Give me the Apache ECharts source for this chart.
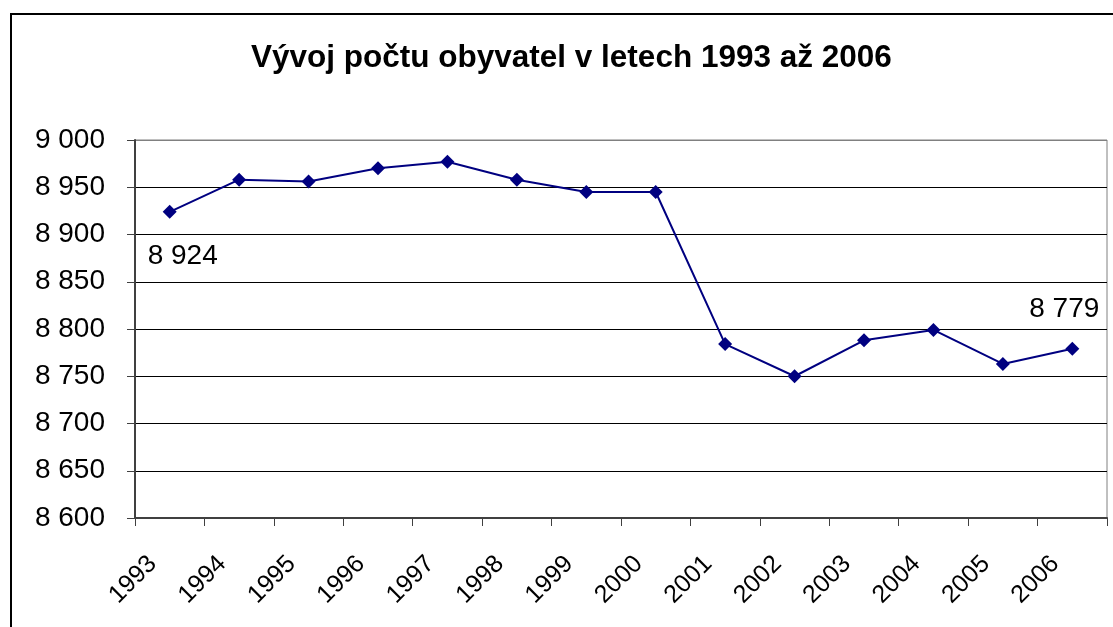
<!DOCTYPE html>
<html><head><meta charset="utf-8">
<script src="https://cdn.jsdelivr.net/npm/echarts@6/dist/echarts.min.js"></script>
<style>html,body{margin:0;padding:0;background:#fff}#c{width:1113px;height:627px}</style>
</head><body><div id="c"></div>
<script>
const years = ['1993','1994','1995','1996','1997','1998','1999','2000','2001','2002','2003','2004','2005','2006'];
const population = [8924, 8958, 8956, 8970, 8977, 8958, 8945, 8945, 8784, 8750, 8788, 8799, 8763, 8779];
const labelledIndices = [0, 13];
const titleText = 'Vývoj počtu obyvatel v letech 1993 až 2006';
const font = 'Liberation Sans, Arial, sans-serif';
const fmt = v => String(v).replace(/\B(?=(\d{3})+(?!\d))/g, ' ');

const labelOffsets = {0: [13, 44], 13: [-8, -40]};
const seriesData = population.map((v, i) => {
  const item = {value: v};
  if (labelledIndices.includes(i)) {
    item.label = {show: true, position: 'inside', offset: labelOffsets[i],
      formatter: p => fmt(p.value), fontSize: 28, color: '#000', fontFamily: font};
  }
  return item;
});

const chart = echarts.init(document.getElementById('c'));
const splitColors = ['#000','#000','#000','#000','#000','#000','#000','#000','#808080'];
chart.setOption({
  animation: false,
  title: {text: titleText, left: 246, top: 37,
    textStyle: {fontSize: 31.5, fontWeight: 'bold', color: '#000', fontFamily: font}},
  graphic: [{type: 'rect', shape: {x: 11, y: 14, width: 1200, height: 800},
    style: {fill: 'none', stroke: '#000', lineWidth: 2}, z: 100}],
  grid: {left: 135, right: 6, top: 140, bottom: 109, show: true, borderColor: '#808080', borderWidth: 1},
  xAxis: {type: 'category', data: years, boundaryGap: true,
    axisLine: {lineStyle: {color: '#404040', width: 2}},
    axisTick: {show: true, length: 8, lineStyle: {color: '#404040', width: 1}},
    axisLabel: {rotate: 45, fontSize: 25, color: '#000', fontFamily: font, margin: 25, padding: [0, 24, 0, 0]}},
  yAxis: {type: 'value', min: 8600, max: 9000, interval: 50,
    axisLine: {show: true, lineStyle: {color: '#404040', width: 2}},
    axisTick: {show: true, length: 8, lineStyle: {color: '#404040'}},
    splitLine: {show: true, lineStyle: {color: splitColors, width: 1}},
    axisLabel: {fontSize: 28, color: '#000', fontFamily: font, margin: 30, formatter: v => fmt(v)}},
  series: [{type: 'line', data: seriesData, symbol: 'diamond', symbolSize: 14,
    lineStyle: {color: '#000080', width: 2}, itemStyle: {color: '#000080'}}]
});
</script></body></html>
